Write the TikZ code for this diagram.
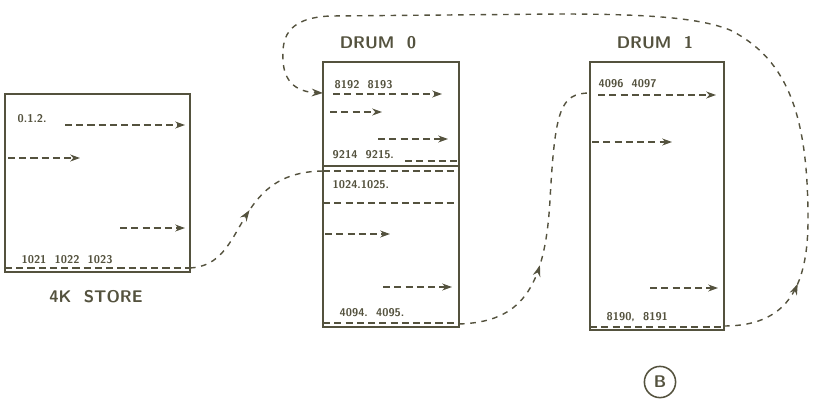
\documentclass[tikz,border=0pt]{standalone}
\usepackage{tikz}
\usetikzlibrary{
  arrows.meta,
  positioning,
  calc,
  decorations.markings
}
\definecolor{ink}{RGB}{84,82,62}

\tikzset{
  memline/.style={draw=ink, line width=1.4pt},
  rowline/.style={draw=ink, line width=0.9pt, dash pattern=on 5pt off 3pt},
  flow/.style={rowline, -{Stealth[length=7pt,width=5pt]}},
  link/.style={draw=ink, line width=1pt, dash pattern=on 4pt off 4pt,
    postaction={decorate},
    decoration={markings, mark=at position #1 with {\arrow{Stealth[length=8pt,width=5.5pt]}}}},
  link/.default=0.5,
  word/.style={text=ink, font=\sffamily\bfseries\footnotesize, anchor=south west, inner sep=1pt},
  title/.style={text=ink, font=\sffamily\bfseries\large, inner sep=1pt}
}

\begin{document}
\begin{tikzpicture}[x=0.025cm, y=-0.025cm]
\useasboundingbox (0,0) rectangle (824,417);

% 4K store
\draw[memline] (5,94) rectangle (190,272);
\node[title] (storelabel) at (96,297) {4K\ \ STORE};
\node[word] (w012) at (16,124) {0.1.2.};
\draw[flow] (65,125) -- (185,125);
\draw[flow] (8,158) -- (80,158);
\draw[flow] (120,228) -- (185,228);
\node[word] (w1021) at (20,265) {1021\ \ 1022\ \ 1023};
\draw[rowline] (5,268) -- (190,268);
\coordinate (store-out) at (190,268);

% drum 0
\draw[memline] (323,62) rectangle (459,327);
\node[title] (drum0label) at (378,43) {DRUM\ \ 0};
\node[word] (w8192) at (333,90) {8192\ \ 8193};
\draw[flow] (333,94) -- (442,94);
\draw[flow] (330,112) -- (382,112);
\draw[flow] (378,139) -- (448,139);
\node[word] (w9214) at (331,160) {9214\ \ 9215.};
\draw[rowline] (405,161) -- (459,161);
\draw[memline, line width=0.8pt] (323,166) -- (459,166);
\draw[rowline] (323,171) -- (459,171);
\node[word] (w1024) at (331,190) {1024.1025.};
\draw[rowline] (323,203) -- (459,203);
\draw[flow] (325,234) -- (390,234);
\draw[flow] (383,287) -- (452,287);
\node[word] (w4094) at (338,318) {4094.\ \ 4095.};
\draw[rowline] (323,323) -- (459,323);
\coordinate (drum0-top) at (323,93);
\coordinate (drum0-mid) at (323,171);
\coordinate (drum0-out) at (459,324);

% drum 1
\draw[memline] (590,62) rectangle (724,330);
\node[title] (drum1label) at (655,43) {DRUM\ \ 1};
\node[word] (w4096) at (597,89) {4096\ \ 4097};
\draw[flow] (598,95) -- (716,95);
\draw[flow] (592,142) -- (672,142);
\draw[flow] (650,288) -- (718,288);
\node[word] (w8190) at (605,323) {8190,\ \ 8191};
\draw[rowline] (590,327) -- (724,327);
\coordinate (drum1-top) at (590,93);
\coordinate (drum1-out) at (724,326);

% transfers
\draw[link] (store-out) .. controls (250,265) and (230,172) .. (drum0-mid);
\draw[link=0.36] (drum0-out) .. controls (520,322) and (545,290) .. (550,200)
  .. controls (555,110) and (560,93) .. (drum1-top);
\draw[link=0.1, -{Stealth[length=8pt,width=5.5pt]}] (drum1-out)
  .. controls (785,326) and (808,290) .. (808,220)
  .. controls (808,120) and (790,60) .. (730,30)
  .. controls (700,18) and (650,14) .. (560,14)
  -- (330,16)
  .. controls (285,18) and (282,40) .. (283,60)
  .. controls (284,85) and (300,92) .. (drum0-top);

\node[draw=ink, line width=1.1pt, circle, minimum size=0.78cm, inner sep=0pt,
  text=ink, font=\sffamily\bfseries\large] (figB) at (660,382) {B};

\end{tikzpicture}
\end{document}
